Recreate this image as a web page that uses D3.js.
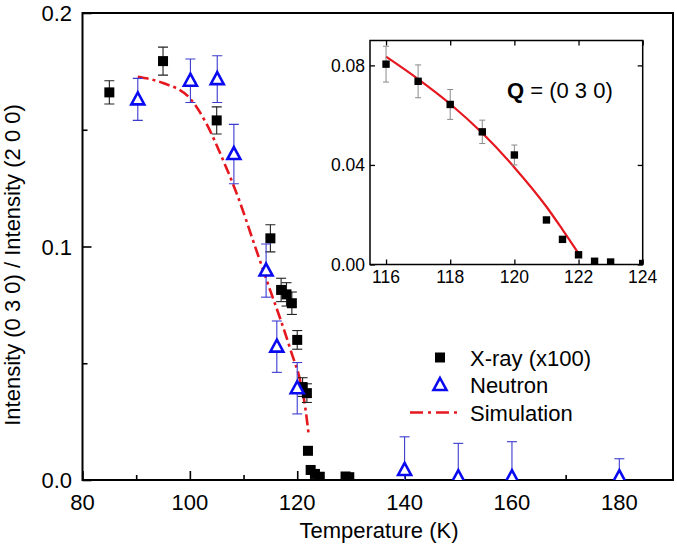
<!DOCTYPE html>
<html><head><meta charset="utf-8">
<script src="https://cdn.jsdelivr.net/npm/d3@7/dist/d3.min.js"></script>
<style>body{margin:0;background:#fff}svg{display:block;font-family:"Liberation Sans",Arial,sans-serif}</style>
</head><body><svg id="c" width="677" height="554"></svg>
<script>
// ---- data ----
const xrayT   = [85, 95, 105, 115, 117, 118, 119, 120, 121, 121.8, 122, 122.5, 123.3, 124.2, 129, 129.7];
const xrayI   = [0.166, 0.1794, 0.154, 0.1035, 0.0814, 0.0795, 0.0757, 0.060, 0.0398, 0.0372, 0.0125, 0.0043, 0.0026, 0.0014, 0.0015, 0.0012];
const xrayErr = [0.005, 0.006, 0.0058, 0.0058, 0.005, 0.005, 0.0048, 0.004, 0.004, 0.004, 0, 0, 0, 0, 0, 0];

const neutT   = [90.3, 100.1, 105.1, 108.2, 114.2, 116.2, 120.0, 140, 150, 160, 180];
const neutI   = [0.163, 0.171, 0.1717, 0.1396, 0.0897, 0.0571, 0.0393, 0.0043, 0.0012, 0.0012, 0.0012];
const neutErr = [0.009, 0.0093, 0.010, 0.0127, 0.0114, 0.011, 0.011, 0.0142, 0.0145, 0.0152, 0.0079];

const simT = [90.3, 95, 100, 103, 106, 109, 112, 115, 117, 119, 120.5, 121.5, 122.1];
const simI = [0.1727, 0.170, 0.1635, 0.153, 0.138, 0.121, 0.101, 0.081, 0.068, 0.054, 0.043, 0.031, 0.020];

const insetT   = [116, 117, 118, 119, 120, 121, 121.5, 122, 122.5, 123, 124];
const insetI   = [0.0805, 0.0736, 0.0643, 0.0533, 0.044, 0.0179, 0.0101, 0.0039, 0.0013, 0.001, 0.0004];
const insetErr = [0.0072, 0.0066, 0.006, 0.0047, 0.004, 0, 0, 0, 0, 0, 0];

const fitT = [116, 117, 118, 119, 120, 121, 121.5, 122];
const fitI = [0.0835, 0.0745, 0.0645, 0.0528, 0.039, 0.0232, 0.0140, 0.0045];

const xTicks = [80, 100, 120, 140, 160, 180];
const xMinor = [90, 110, 130, 150, 170];
const yTicks = [0.0, 0.1, 0.2];
const yMinor = [0.05, 0.15];
const insXTicks = [116, 118, 120, 122, 124];
const insYTicks = [0.00, 0.04, 0.08];

const legendLabels = ["X-ray (x100)", "Neutron", "Simulation"];
const xTitle = "Temperature (K)";
const yTitle = "Intensity (0 3 0) / Intensity (2 0 0)";
const insetLabelBold = "Q", insetLabelRest = " = (0 3 0)";

// ---- styles ----
const RED = "#e5171f", BLUE = "#0a0af0", EBLUE = "#3b3bd0";
const svg = d3.select("#c");
const F = 22;

// ---- main scales ----
const L = 82.5, R = 673, T = 13, B = 480;
const x = d3.scaleLinear().domain([80, 190]).range([L, R]);
const y = d3.scaleLinear().domain([0, 0.2]).range([B, T]);

svg.append("defs").append("clipPath").attr("id", "mclip")
  .append("rect").attr("x", L).attr("y", T).attr("width", R - L).attr("height", B - T);

// axes (ticks inward)
const gx = svg.append("g").attr("transform", `translate(0,${B})`);
gx.call(d3.axisBottom(x).tickValues(xTicks).tickSize(-9).tickFormat(d3.format("d")).tickPadding(0));
gx.select(".domain").remove();
gx.selectAll("text").remove();
const gxm = svg.append("g").attr("transform", `translate(0,${B})`);
gxm.call(d3.axisBottom(x).tickValues(xMinor).tickSize(-5).tickFormat(""));
gxm.select(".domain").remove();

const gy = svg.append("g").attr("transform", `translate(${L},0)`);
gy.call(d3.axisLeft(y).tickValues(yTicks).tickSize(-9).tickFormat(""));
gy.select(".domain").remove();
const gym = svg.append("g").attr("transform", `translate(${L},0)`);
gym.call(d3.axisLeft(y).tickValues(yMinor).tickSize(-5).tickFormat(""));
gym.select(".domain").remove();
svg.selectAll(".tick line").attr("stroke", "#000").attr("stroke-width", 1.6);

// tick labels
svg.append("g").selectAll("text").data(xTicks).join("text")
  .attr("x", d => x(d)).attr("y", 509.5).attr("text-anchor", "middle")
  .attr("font-size", F).text(d => d);
svg.append("g").selectAll("text").data(yTicks).join("text")
  .attr("x", 72).attr("y", d => y(d) + 8).attr("text-anchor", "end")
  .attr("font-size", F).text(d => d3.format(".1f")(d));

// frame
svg.append("rect").attr("x", L).attr("y", T).attr("width", R - L).attr("height", B - T)
  .attr("fill", "none").attr("stroke", "#000").attr("stroke-width", 2);

// titles
svg.append("text").attr("x", 379).attr("y", 538).attr("text-anchor", "middle")
  .attr("font-size", F).text(xTitle);
svg.append("text").attr("transform", "translate(20,265) rotate(-90)").attr("text-anchor", "middle")
  .attr("font-size", F).text(yTitle);

const plot = svg.append("g").attr("clip-path", "url(#mclip)");

// simulation line
plot.append("path").datum(simT.map((t, i) => [t, simI[i]]))
  .attr("d", d3.line().x(d => x(d[0])).y(d => y(d[1])).curve(d3.curveMonotoneX))
  .attr("fill", "none").attr("stroke", RED).attr("stroke-width", 2.6)
  .attr("stroke-dasharray", "11,4,3,4");

// x-ray error bars + squares
const xr = xrayT.map((t, i) => ({t, v: xrayI[i], e: xrayErr[i]}));
const xe = plot.append("g").selectAll("g").data(xr.filter(d => d.e > 0)).join("g").attr("stroke", "#222").attr("stroke-width", 1.1);
xe.append("line").attr("x1", d => x(d.t)).attr("x2", d => x(d.t)).attr("y1", d => y(d.v + d.e)).attr("y2", d => y(d.v - d.e));
xe.append("line").attr("x1", d => x(d.t) - 5).attr("x2", d => x(d.t) + 5).attr("y1", d => y(d.v + d.e)).attr("y2", d => y(d.v + d.e));
xe.append("line").attr("x1", d => x(d.t) - 5).attr("x2", d => x(d.t) + 5).attr("y1", d => y(d.v - d.e)).attr("y2", d => y(d.v - d.e));
plot.append("g").selectAll("rect").data(xr).join("rect")
  .attr("x", d => x(d.t) - 5).attr("y", d => y(d.v) - 5).attr("width", 10).attr("height", 10).attr("fill", "#000");

// neutron error bars + triangles
const nr = neutT.map((t, i) => ({t, v: neutI[i], e: neutErr[i]}));
const ne = plot.append("g").selectAll("g").data(nr).join("g").attr("stroke", EBLUE).attr("stroke-width", 1.1);
ne.append("line").attr("x1", d => x(d.t)).attr("x2", d => x(d.t)).attr("y1", d => y(d.v + d.e)).attr("y2", d => y(d.v - d.e));
ne.append("line").attr("x1", d => x(d.t) - 5).attr("x2", d => x(d.t) + 5).attr("y1", d => y(d.v + d.e)).attr("y2", d => y(d.v + d.e));
ne.append("line").attr("x1", d => x(d.t) - 5).attr("x2", d => x(d.t) + 5).attr("y1", d => y(d.v - d.e)).attr("y2", d => y(d.v - d.e));
const tri = (cx, cy) => `M${cx},${cy - 7}L${cx + 6.5},${cy + 5}L${cx - 6.5},${cy + 5}Z`;
plot.append("g").selectAll("path").data(nr).join("path")
  .attr("d", d => tri(x(d.t), y(d.v))).attr("fill", "#fff").attr("stroke", BLUE).attr("stroke-width", 2.6);

// legend
const lg = svg.append("g");
const rows = [357.5, 385, 412.5];
lg.append("rect").attr("x", 435).attr("y", rows[0] - 5).attr("width", 10).attr("height", 10).attr("fill", "#000");
lg.append("path").attr("d", tri(440, rows[1])).attr("fill", "#fff").attr("stroke", BLUE).attr("stroke-width", 2.6);
lg.append("line").attr("x1", 410).attr("x2", 462).attr("y1", rows[2]).attr("y2", rows[2])
  .attr("stroke", RED).attr("stroke-width", 2.6).attr("stroke-dasharray", "13,5,3,5");
lg.selectAll("text").data(legendLabels).join("text")
  .attr("x", 470).attr("y", (d, i) => rows[i] + 8).attr("font-size", F).text(d => d);

// ---- inset ----
const iL = 370, iR = 642.7, iT = 40.5, iB = 264.5;
const ix = d3.scaleLinear().domain([115.5, 124]).range([iL, iR]);
const iy = d3.scaleLinear().domain([0, 0.09]).range([iB, iT]);
svg.select("defs").append("clipPath").attr("id", "iclip")
  .append("rect").attr("x", iL).attr("y", iT).attr("width", iR - iL).attr("height", iB - iT);
svg.append("rect").attr("x", iL).attr("y", iT).attr("width", iR - iL).attr("height", iB - iT).attr("fill", "#fff");

const ig = svg.append("g");
const ia = [
  [d3.axisBottom(ix).tickValues(insXTicks).tickSize(-5), `translate(0,${iB})`],
  [d3.axisTop(ix).tickValues(insXTicks).tickSize(-5), `translate(0,${iT})`],
  [d3.axisLeft(iy).tickValues(insYTicks).tickSize(-5), `translate(${iL},0)`],
  [d3.axisRight(iy).tickValues(insYTicks).tickSize(-5), `translate(${iR},0)`]
];
ia.forEach(([ax, tr]) => {
  const g = ig.append("g").attr("transform", tr).call(ax.tickFormat(""));
  g.select(".domain").remove();
  g.selectAll(".tick line").attr("stroke", "#000").attr("stroke-width", 1.3);
});
ig.append("g").selectAll("text").data(insXTicks).join("text")
  .attr("x", d => ix(d)).attr("y", 283).attr("text-anchor", "middle").attr("font-size", 17.5).text(d => d);
ig.append("g").selectAll("text").data(insYTicks).join("text")
  .attr("x", 365).attr("y", d => iy(d) + 6.3).attr("text-anchor", "end").attr("font-size", 17.5).text(d => d3.format(".2f")(d));

const ip = svg.append("g").attr("clip-path", "url(#iclip)");
ip.append("path").datum(fitT.map((t, i) => [t, fitI[i]]))
  .attr("d", d3.line().x(d => ix(d[0])).y(d => iy(d[1])).curve(d3.curveMonotoneX))
  .attr("fill", "none").attr("stroke", RED).attr("stroke-width", 2.2);
const ir = insetT.map((t, i) => ({t, v: insetI[i], e: insetErr[i]}));
const ie = ip.append("g").selectAll("g").data(ir.filter(d => d.e > 0)).join("g").attr("stroke", "#8a8a8a").attr("stroke-width", 1);
ie.append("line").attr("x1", d => ix(d.t)).attr("x2", d => ix(d.t)).attr("y1", d => iy(d.v + d.e)).attr("y2", d => iy(d.v - d.e));
ie.append("line").attr("x1", d => ix(d.t) - 3).attr("x2", d => ix(d.t) + 3).attr("y1", d => iy(d.v + d.e)).attr("y2", d => iy(d.v + d.e));
ie.append("line").attr("x1", d => ix(d.t) - 3).attr("x2", d => ix(d.t) + 3).attr("y1", d => iy(d.v - d.e)).attr("y2", d => iy(d.v - d.e));
ip.append("g").selectAll("rect").data(ir).join("rect")
  .attr("x", d => ix(d.t) - 3.7).attr("y", d => iy(d.v) - 3.7).attr("width", 7.4).attr("height", 7.4).attr("fill", "#000");

svg.append("rect").attr("x", iL).attr("y", iT).attr("width", iR - iL).attr("height", iB - iT)
  .attr("fill", "none").attr("stroke", "#000").attr("stroke-width", 1.5);

const q = svg.append("text").attr("x", 507).attr("y", 98).attr("font-size", F);
q.append("tspan").attr("font-weight", "bold").text(insetLabelBold);
q.append("tspan").text(insetLabelRest);
</script></body></html>
